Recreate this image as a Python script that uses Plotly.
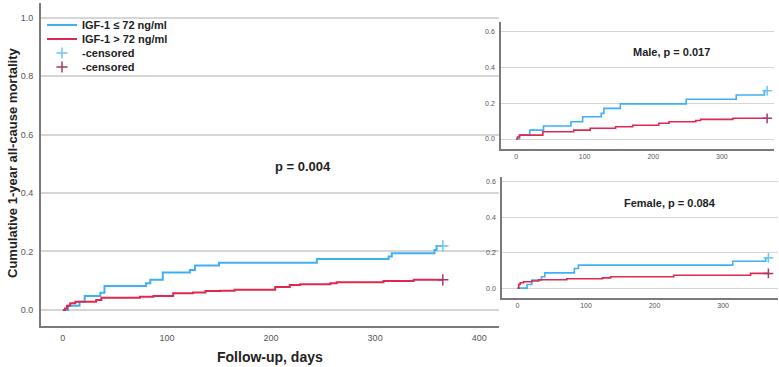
import plotly.graph_objects as go

W, H = 779, 367

# ---------------- data ----------------
main_low_t = [0, 5, 16, 21, 36, 40, 80, 84, 96, 122, 127, 150, 244, 313, 316, 357, 359, 365]
main_low_v = [0, 0.014, 0.028, 0.048, 0.059, 0.082, 0.091, 0.103, 0.128, 0.137, 0.152, 0.161,
              0.174, 0.183, 0.194, 0.205, 0.219, 0.219]
main_high_t = [0, 2, 4, 7, 12, 32, 37, 74, 87, 106, 125, 137, 151, 165, 204, 218, 228, 257, 263, 308, 337, 365]
main_high_v = [0, 0.005, 0.014, 0.023, 0.028, 0.034, 0.042, 0.045, 0.048, 0.057, 0.060, 0.065,
               0.066, 0.069, 0.078, 0.085, 0.088, 0.091, 0.095, 0.099, 0.103, 0.103]

male_low_t = [0, 5, 20, 40, 80, 97, 124, 128, 152, 248, 321, 362, 366]
male_low_v = [0, 0.022, 0.05, 0.073, 0.097, 0.125, 0.144, 0.172, 0.197, 0.223, 0.247, 0.271, 0.271]
male_high_t = [0, 2, 5, 39, 84, 108, 145, 170, 208, 223, 262, 269, 316, 366]
male_high_v = [0, 0.011, 0.022, 0.041, 0.05, 0.06, 0.069, 0.077, 0.088, 0.097, 0.104, 0.110, 0.116, 0.116]

fem_low_t = [0, 14, 21, 35, 40, 83, 89, 314, 362, 366]
fem_low_v = [0, 0.02, 0.045, 0.064, 0.086, 0.111, 0.13, 0.152, 0.171, 0.171]
fem_high_t = [0, 2, 4, 9, 21, 31, 72, 124, 136, 228, 340, 366]
fem_high_v = [0, 0.02, 0.03, 0.036, 0.04, 0.047, 0.053, 0.058, 0.064, 0.073, 0.083, 0.083]

series_names = ["IGF-1 ≤ 72 ng/ml", "IGF-1 > 72 ng/ml", "-censored", "-censored"]
main_yticks = [0.0, 0.2, 0.4, 0.6, 0.8, 1.0]
main_xticks = [0, 100, 200, 300, 400]
inset_yticks = [0.0, 0.2, 0.4, 0.6]
inset_xticks = [0, 100, 200, 300]

BLUE = "#3fb0f5"
RED = "#e0284f"
BLUE_C = "#6cc4f7"
RED_C = "#a8386a"


def px_x(p):
    return p / W


def px_y(p):
    return 1 - p / H


fig = go.Figure()

legend_ids = ["legend", "legend2", "legend3", "legend4"]
panels = [
    ("x", "y", main_low_t, main_low_v, main_high_t, main_high_v, True),
    ("x2", "y2", male_low_t, male_low_v, male_high_t, male_high_v, False),
    ("x3", "y3", fem_low_t, fem_low_v, fem_high_t, fem_high_v, False),
]
for xa, ya, lt, lv, ht, hv, leg in panels:
    lw = 2 if leg else 1.6
    ms = 8 if leg else 7
    fig.add_trace(go.Scatter(x=lt, y=lv, mode="lines", line=dict(color=BLUE, width=lw, shape="hv"),
                             name=series_names[0], showlegend=leg, legend=legend_ids[0],
                             xaxis=xa, yaxis=ya))
    fig.add_trace(go.Scatter(x=ht, y=hv, mode="lines", line=dict(color=RED, width=lw, shape="hv"),
                             name=series_names[1], showlegend=leg, legend=legend_ids[1],
                             xaxis=xa, yaxis=ya))
    fig.add_trace(go.Scatter(x=[lt[-1]], y=[lv[-1]], mode="markers",
                             marker=dict(symbol="cross-thin", size=ms, line=dict(color=BLUE_C, width=1.5)),
                             name=series_names[2], showlegend=leg, legend=legend_ids[2],
                             xaxis=xa, yaxis=ya))
    fig.add_trace(go.Scatter(x=[ht[-1]], y=[hv[-1]], mode="markers",
                             marker=dict(symbol="cross-thin", size=ms, line=dict(color=RED_C, width=1.5)),
                             name=series_names[3], showlegend=leg, legend=legend_ids[3],
                             xaxis=xa, yaxis=ya))

GRID = "#d6d6d6"
AX = "#7a7a7a"
TICKC = "#555555"

common = dict(showgrid=True, gridcolor=GRID, zeroline=False, showline=True, linecolor=AX,
              ticks="", fixedrange=True)

legend_rows = [25, 39, 53, 67]
legend_common = dict(x=px_x(42), xanchor="left", yanchor="middle", bgcolor="rgba(0,0,0,0)",
                     font=dict(size=11, color="#222", weight="bold"), itemwidth=30)

fig.update_layout(
    width=W, height=H,
    margin=dict(l=0, r=0, t=0, b=0),
    paper_bgcolor="white", plot_bgcolor="white",
    font=dict(family="Arial, Liberation Sans, sans-serif", color="#222"),
    xaxis=dict(domain=[px_x(41), px_x(499)], range=[-21, 419], tickvals=main_xticks,
               showgrid=False, linewidth=2, tickfont=dict(size=9, color=TICKC),
               anchor="y", zeroline=False, showline=True, linecolor=AX, ticks="",
               ticklabelstandoff=2),
    yaxis=dict(domain=[px_y(326), px_y(3)], range=[-0.055, 1.05], tickvals=main_yticks,
               tickformat=".1f", linewidth=2, gridwidth=1.5, tickfont=dict(size=9, color=TICKC),
               anchor="x", ticklabelstandoff=4, **common),
    xaxis2=dict(domain=[px_x(501), px_x(774)], range=[-22, 376], tickvals=inset_xticks,
                showgrid=False, linewidth=1.5, tickfont=dict(size=7, color=TICKC), anchor="y2",
                zeroline=False, showline=True, linecolor=AX, ticks="", ticklabelstandoff=0),
    yaxis2=dict(domain=[px_y(149), px_y(22)], range=[-0.056, 0.656], tickvals=inset_yticks,
                tickformat=".1f", linewidth=1.5, gridwidth=1.2, tickfont=dict(size=7, color=TICKC),
                anchor="x2", ticklabelstandoff=3, **common),
    xaxis3=dict(domain=[px_x(502), px_x(778)], range=[-22.5, 380], tickvals=inset_xticks,
                showgrid=False, linewidth=1.5, tickfont=dict(size=7, color=TICKC), anchor="y3",
                zeroline=False, showline=True, linecolor=AX, ticks="", ticklabelstandoff=0),
    yaxis3=dict(domain=[px_y(298), px_y(177)], range=[-0.056, 0.628], tickvals=inset_yticks,
                tickformat=".1f", linewidth=1.5, gridwidth=1.2, tickfont=dict(size=7, color=TICKC),
                anchor="x3", ticklabelstandoff=3, **common),
    legend=dict(y=px_y(legend_rows[0]), **legend_common),
    legend2=dict(y=px_y(legend_rows[1]), **legend_common),
    legend3=dict(y=px_y(legend_rows[2]), **legend_common),
    legend4=dict(y=px_y(legend_rows[3]), **legend_common),
    showlegend=True,
)

ann_font = dict(family="Arial, Liberation Sans, sans-serif", color="#222", weight="bold")


def add_text(text, x, y, size, angle=0):
    fig.add_annotation(text=text, x=px_x(x), y=px_y(y), xref="paper", yref="paper",
                       xanchor="center", yanchor="middle", showarrow=False, textangle=angle,
                       font=dict(size=size, **ann_font))


add_text("p = 0.004", 303, 166, 13)
add_text("Male, p = 0.017", 671, 52, 11)
add_text("Female, p = 0.084", 670, 203, 11)
add_text("Cumulative 1-year all-cause mortality", 12, 163, 13, angle=-90)
add_text("Follow-up, days", 270, 357, 14)

fig.write_html("out.html")
